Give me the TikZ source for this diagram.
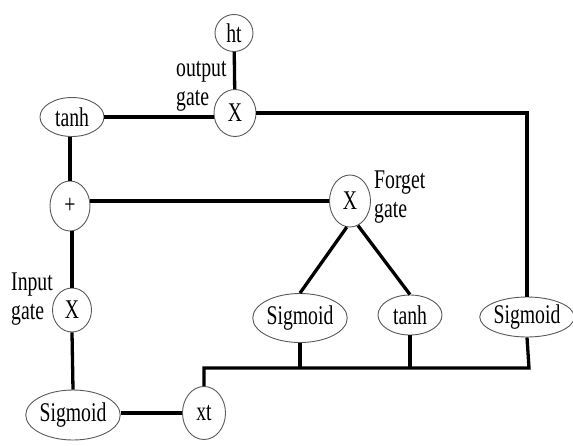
\documentclass[tikz,border=0pt]{standalone}
\usepackage{fontspec}
\newfontfamily\lblfont[FakeStretch=0.73]{Liberation Serif}
\usetikzlibrary{shapes.geometric}
\begin{document}
\begin{tikzpicture}[x=1pt,y=-1pt,
  opnode/.style={ellipse,draw=black!65,line width=0.9pt,inner sep=0pt,
    font=\lblfont\fontsize{27}{29}\selectfont},
  gatelabel/.style={align=left,inner sep=0pt,anchor=west,
    font=\lblfont\fontsize{27}{29}\selectfont},
  wire/.style={line width=3.3pt,black}]
\useasboundingbox (0,0) rectangle (573,445);

% cell operations
\node[opnode,minimum width=38,minimum height=37] (ht) at (234,33) {ht};
\node[opnode,minimum width=42,minimum height=47] (ox) at (235,113) {X};
\node[opnode,minimum width=64,minimum height=39] (tanhA) at (72,117) {tanh};
\node[opnode,minimum width=40,minimum height=50] (plus) at (70,206) {+};
\node[opnode,minimum width=41,minimum height=52] (fx) at (350,201) {X};
\node[opnode,minimum width=39,minimum height=44] (ix) at (72,310) {X};
\node[opnode,minimum width=87,minimum height=50] (sigL) at (73,415) {Sigmoid};
\node[opnode,minimum width=43,minimum height=53] (xt) at (204,413) {xt};
\node[opnode,minimum width=88,minimum height=49] (sigM) at (300,318) {Sigmoid};
\node[opnode,minimum width=64,minimum height=40] (tanhM) at (410,315) {tanh};
\node[opnode,minimum width=91,minimum height=40] (sigR) at (527,317) {Sigmoid};

% gate labels
\node[gatelabel] (outlbl) at (176,86) {output\\gate};
\node[gatelabel] (fgtlbl) at (374,197) {Forget\\gate};
\node[gatelabel] (inlbl) at (11,299) {Input\\gate};

\coordinate (bus) at (529,368);

% connections
\draw[wire] (ht) -- (ox);
\draw[wire] (tanhA.east) -- (tanhA.east -| ox.west);
\draw[wire] (ox.east) -| (sigR.north);
\draw[wire] (plus.north) -- (plus.north |- tanhA.south);
\draw[wire] (fx.west) -- (fx.west -| plus.east);
\draw[wire] (ix.north) -- (ix.north |- plus.south);
\draw[wire] (ix.south) -- (sigL.north);
\draw[wire] (xt.west) -- (xt.west -| sigL.east);
\draw[wire] (xt.north) |- (bus) -- (sigR.south);
\draw[wire] (sigM.south) -- (sigM.south |- bus);
\draw[wire] (tanhM.south) -- (tanhM.south |- bus);
\draw[wire] (fx.-97) -- (sigM.north);
\draw[wire] (fx.-72) -- (tanhM.north);
\end{tikzpicture}
\end{document}
